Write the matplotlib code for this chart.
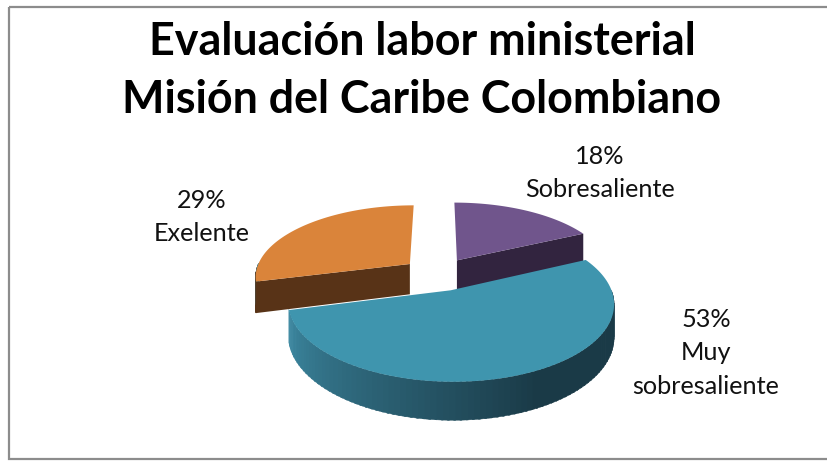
import numpy as np
import matplotlib.pyplot as plt
from matplotlib.patches import Rectangle, Polygon

categories = ["Sobresaliente", "Muy\nsobresaliente", "Exelente"]
percentages = [18, 53, 29]
title = "Evaluación labor ministerial\nMisión del Caribe Colombiano"

colors_top = ["#70558c", "#3f95ae", "#da843a"]
colors_cut = ["#32243f", "#1a3a47", "#583317"]

plt.rcParams['font.family'] = ['Lato', 'DejaVu Sans']

# fake 3d projection of the pie, in pixels
cx, cy = 438, 274
a, b = 155, 71
persp = 0.16
explode = 0.235
depth = 31


def project(x, z, down=0.0):
    w = 1 + persp * z
    return cx + a * x / w, cy - b * z / w + down / w


def wedge_points(start, end, off_x, off_z, down=0.0):
    th = np.radians(np.linspace(start, end, 120))
    xs, ys = project(np.sin(th) + off_x, np.cos(th) + off_z, down)
    return np.column_stack([xs, ys])


def mix(c1, c2, t):
    c1 = np.array(plt.matplotlib.colors.to_rgb(c1))
    c2 = np.array(plt.matplotlib.colors.to_rgb(c2))
    return tuple(c1 + (c2 - c1) * t)


fig = plt.figure(figsize=(8.28, 4.62), dpi=100)
ax = fig.add_axes([0, 0, 1, 1])
ax.set_xlim(0, 828)
ax.set_ylim(462, 0)
ax.axis("off")

ax.add_patch(Rectangle((9, 6.5), 840, 452.5, fill=False, ec="#8c8c8c", lw=1.6))

limits = np.cumsum([0] + percentages) * 3.6
order = [0, 2, 1]  # back slices first

for i in order:
    start, end = limits[i], limits[i + 1]
    mid = np.radians((start + end) / 2)
    off_x, off_z = explode * np.sin(mid), explode * np.cos(mid)
    apex_top = project(off_x, off_z)
    apex_low = project(off_x, off_z, depth)

    # outer wall, only the front part shows
    w0, w1 = max(start, 90), min(end, 270)
    if w1 > w0:
        steps = np.linspace(w0, w1, 90)
        for s0, s1 in zip(steps[:-1], steps[1:]):
            top = wedge_points(s0, s1 + 0.6, off_x, off_z)[[0, -1]]
            low = wedge_points(s0, s1 + 0.6, off_x, off_z, depth)[[0, -1]]
            t = (w1 - s0) / (w1 - w0)
            c = mix("#3d8aa3", colors_cut[i], min(t / 0.62, 1.0))
            ax.add_patch(Polygon([top[0], top[1], low[1], low[0]], fc=c, ec=c, lw=0.3))

    # cut face towards the viewer
    if i == 0:
        edge_top = wedge_points(end, end, off_x, off_z)[0]
        edge_low = wedge_points(end, end, off_x, off_z, depth)[0]
        ax.add_patch(Polygon([apex_top, edge_top, edge_low, apex_low], fc=colors_cut[i], ec="none"))
    if i == 2:
        edge_top = wedge_points(start, start, off_x, off_z)[0]
        edge_low = wedge_points(start, start, off_x, off_z, depth)[0]
        ax.add_patch(Polygon([apex_top, edge_top, edge_low, apex_low], fc=colors_cut[i], ec="none"))

    outline = np.vstack([[apex_top], wedge_points(start, end, off_x, off_z)])
    ax.add_patch(Polygon(outline, fc=colors_top[i], ec="none"))

ax.text(422, 71, title, ha="center", va="center", fontsize=32.3, fontweight="bold",
        color="black", linespacing=1.45)

label_pos = [(600, 173), (706, 353), (202, 217)]
for cat, pct, (lx, ly) in zip(categories, percentages, label_pos):
    ax.text(lx, ly, f"{pct}%\n{cat}", ha="center", va="center", fontsize=18.2,
            color="#111111", linespacing=1.56)

fig.savefig("out.png", dpi=100)
